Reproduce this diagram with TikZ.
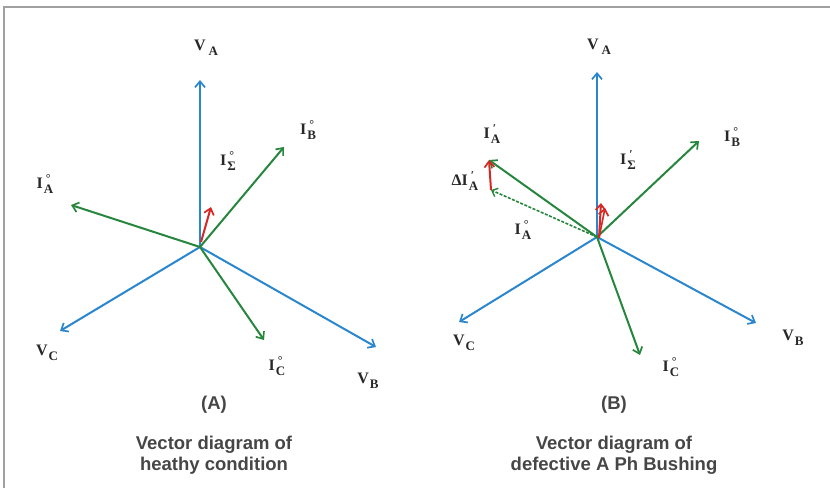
\documentclass[tikz,border=0pt]{standalone}
\usepackage{fontspec}
\setmainfont{Liberation Serif}
\newfontfamily\capfont{Liberation Sans}
\usetikzlibrary{arrows.meta}
\definecolor{vblue}{RGB}{42,134,205}
\definecolor{igreen}{RGB}{38,134,62}
\definecolor{ired}{RGB}{214,40,36}
\definecolor{framegray}{RGB}{160,160,160}
\definecolor{captxt}{RGB}{70,70,70}
\definecolor{labtxt}{RGB}{40,40,40}
\tikzset{
  vec/.style={line width=2pt,-{Straight Barb[length=6pt,width=10pt,line width=1.7pt]}},
  vv/.style={vec,draw=vblue},
  iv/.style={vec,draw=igreen},
  rv/.style={vec,draw=ired},
  lab/.style={font=\fontsize{16}{16}\selectfont\bfseries,text=labtxt,inner sep=0pt},
  captext/.style={font=\capfont\bfseries\fontsize{18.5}{21}\selectfont,text=captxt,inner sep=0pt,align=center},
}
% main letter, superscript mark, subscript
\newcommand{\lbl}[3]{#1\kern1pt\makebox[0pt][l]{\kern2pt\raisebox{6.5pt}{\fontsize{12}{12}\selectfont #2}}\raisebox{-4.5pt}{\fontsize{13}{13}\selectfont #3}}
\newcommand{\LV}[1]{V\kern3pt\raisebox{-4.5pt}{\fontsize{13}{13}\selectfont #1}}
\begin{document}
\begin{tikzpicture}[x=1pt,y=-1pt]
\useasboundingbox (0,0) rectangle (830,488);
\draw[framegray,line width=1.5pt] (4,488) -- (4,7) -- (830,7);
% ---------- Diagram A ----------
\coordinate (OA) at (200,247);
\coordinate (VAa) at (200,80);
\coordinate (VBa) at (376,347);
\coordinate (VCa) at (60,331);
\coordinate (IAa) at (71,205);
\coordinate (IBa) at (284,147);
\coordinate (ICa) at (264,340);
\coordinate (ISa0) at (201,242);
\coordinate (ISa) at (211,207);
\draw[vv] (OA) -- (VAa);
\draw[vv] (OA) -- (VBa);
\draw[vv] (OA) -- (VCa);
\draw[iv] (OA) -- (IAa);
\draw[iv] (OA) -- (IBa);
\draw[iv] (OA) -- (ICa);
\draw[rv] (ISa0) -- (ISa);
\node[lab] (lVAa) at (206,48) {\LV{A}};
\node[lab] (lIBa) at (308,130) {\lbl{I}{°}{B}};
\node[lab] (lISa) at (228,161) {\lbl{I}{°}{Σ}};
\node[lab] (lIAa) at (45,184) {\lbl{I}{°}{A}};
\node[lab] (lVCa) at (47,353) {\lbl{V}{}{C}};
\node[lab] (lICa) at (277,366) {\lbl{I}{°}{C}};
\node[lab] (lVBa) at (368,381) {\lbl{V}{}{B}};
\node[captext] (capA) at (214,405) {(A)};
\node[captext] (capA1) at (214,455) {Vector diagram of\\heathy condition};
% ---------- Diagram B ----------
\coordinate (OB) at (597,237);
\coordinate (VAb) at (597,72);
\coordinate (VBb) at (756,323);
\coordinate (VCb) at (459,322);
\coordinate (IBb) at (699,141);
\coordinate (ICb) at (640,355);
\coordinate (IApb) at (489,160);
\coordinate (IAob) at (491,190);
\coordinate (ISb0) at (599,238);
\coordinate (ISb1) at (601,203);
\coordinate (ISb2) at (605,208);
\draw[vv] (OB) -- (VAb);
\draw[vv] (OB) -- (VBb);
\draw[vv] (OB) -- (VCb);
\draw[iv] (OB) -- (IBb);
\draw[iv] (OB) -- (ICb);
\draw[iv] (OB) -- (IApb);
\draw[vec,draw=igreen,line width=1.6pt,dash pattern=on 3pt off 1.5pt,-{Straight Barb[length=5pt,width=9pt,line width=1.4pt]}] (OB) -- (IAob);
\draw[rv] (IAob) -- (IApb);
\draw[rv] (ISb0) -- (ISb1);
\draw[rv,line width=1.6pt] (ISb0) -- (ISb2);
\node[lab] (lVAb) at (599,47) {\LV{A}};
\node[lab] (lIBb) at (732,137) {\lbl{I}{°}{B}};
\node[lab] (lISb) at (628,160) {\lbl{I}{′}{Σ}};
\node[lab] (lIApb) at (492,134) {\lbl{I}{′}{A}};
\node[lab] (lDIb) at (465,181) {\lbl{ΔI}{′}{A}};
\node[lab] (lIAob) at (523,230) {\lbl{I}{°}{A}};
\node[lab] (lVCb) at (464,343) {\lbl{V}{}{C}};
\node[lab] (lICb) at (671,367) {\lbl{I}{°}{C}};
\node[lab] (lVBb) at (793,338) {\lbl{V}{}{B}};
\node[captext] (capB) at (614,405) {(B)};
\node[captext] (capB1) at (614,455) {Vector diagram of\\defective A Ph Bushing};
\end{tikzpicture}
\end{document}
